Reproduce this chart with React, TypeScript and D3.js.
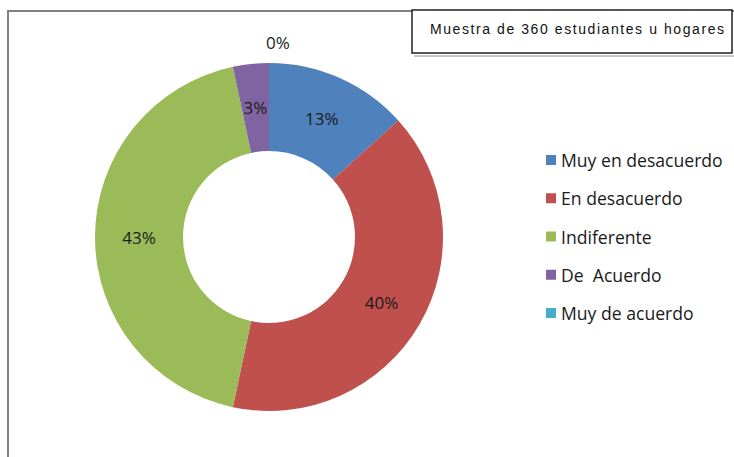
import React from "react";
import * as d3 from "d3";

const categories = [
  "Muy en desacuerdo",
  "En desacuerdo",
  "Indiferente",
  "De  Acuerdo",
  "Muy de acuerdo",
];
const counts = [48, 144, 156, 12, 0];
const colors = ["#4F81BD", "#C0504D", "#9BBB59", "#8064A2", "#4BACC6"];
const title = "Muestra de 360 estudiantes u hogares";

const W = 734;
const H = 457;

const App = () => {
  const cx = 269;
  const cy = 237;
  const outerR = 174;
  const innerR = 86;
  const total = d3.sum(counts);

  const pie = d3
    .pie<number>()
    .sort(null)
    .value((d) => d);
  const arcs = pie(counts);
  const arc = d3.arc<d3.PieArcDatum<number>>().innerRadius(innerR).outerRadius(outerR);
  const labelArc = d3
    .arc<d3.PieArcDatum<number>>()
    .innerRadius((innerR + outerR) / 2)
    .outerRadius((innerR + outerR) / 2);

  const legendY = d3
    .scalePoint<string>()
    .domain(categories)
    .range([160, 313]);

  const font = "'Open Sans', 'Noto Sans', sans-serif";

  return (
    <svg
      width={W}
      height={H}
      style={{ position: "absolute", left: 0, top: 0, background: "#fff" }}
    >
      {/* outer frame */}
      <rect x={8} y={11} width={800} height={600} fill="#fff" stroke="#808080" strokeWidth={2} />

      <g transform={`translate(${cx},${cy})`}>
        {arcs.map((a, i) => (
          <path key={i} d={arc(a) || ""} fill={colors[i]} />
        ))}
        {arcs.map((a, i) => {
          const pct = Math.round((a.data / total) * 100);
          let [x, y] = labelArc.centroid(a);
          if (a.data / total < 0.01) {
            // tiny slice: label sits above the ring
            const ang = (a.startAngle + a.endAngle) / 2;
            x = Math.sin(ang) * (outerR + 21) + 9;
            y = -Math.cos(ang) * (outerR + 21);
          }
          return (
            <text
              key={i}
              x={x}
              y={y}
              textAnchor="middle"
              dominantBaseline="central"
              fontFamily={font}
              fontSize={17}
              fill="#1a1a1a"
            >
              {pct}%
            </text>
          );
        })}
      </g>

      {/* legend */}
      {categories.map((c, i) => (
        <g key={c} transform={`translate(546,${legendY(c)})`}>
          <rect x={0} y={-5} width={10} height={10} fill={colors[i]} />
          <text
            x={15}
            y={0}
            dominantBaseline="central"
            fontFamily={font}
            fontSize={17.6}
            fill="#1a1a1a"
            style={{ whiteSpace: "pre" }}
          >
            {c}
          </text>
        </g>
      ))}

      {/* title box */}
      <rect x={414} y={55} width={320} height={2} fill="#c8c8c8" />
      <rect x={412} y={10} width={320} height={43} fill="#fff" stroke="#222" strokeWidth={1.5} />
      <text
        x={430}
        y={29}
        dominantBaseline="central"
        fontFamily="'Liberation Sans', Arial, sans-serif"
        fontSize={14}
        textLength={294}
        lengthAdjust="spacing"
        fill="#111"
      >
        {title}
      </text>
    </svg>
  );
};

export default App;
